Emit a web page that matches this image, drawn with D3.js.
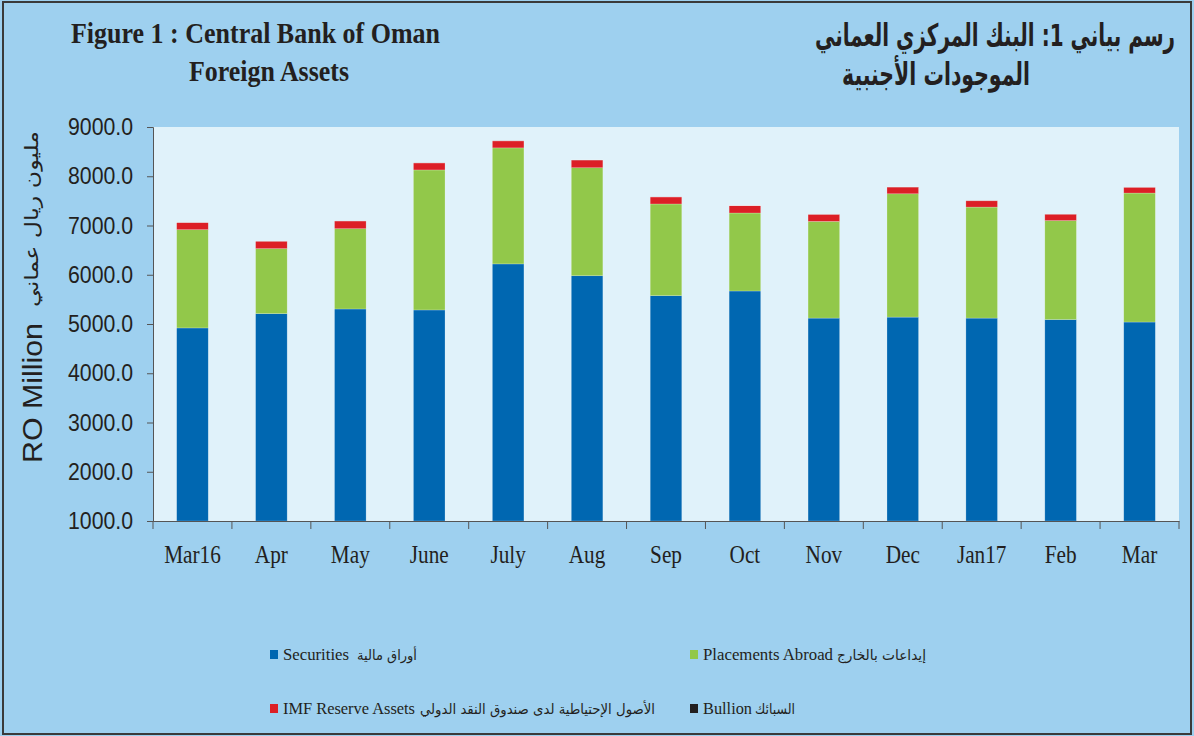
<!DOCTYPE html>
<html>
<head>
<meta charset="utf-8">
<script src="https://cdn.jsdelivr.net/npm/d3@7"></script>
<style>
    body { margin: 0; background: #9ed0ef; }
    svg { display: block; }
</style>
</head>
<body>
<div id="chart"></div>
<script>
// values (RO million)
const months = ["Mar16", "Apr", "May", "June", "July", "Aug", "Sep", "Oct", "Nov", "Dec", "Jan17", "Feb", "Mar"];
const securities = [4920, 5210, 5305, 5285, 6220, 5980, 5575, 5670, 5120, 5140, 5120, 5090, 5040];
const placements = [1995, 1320, 1630, 2843, 2356, 2193, 1862, 1584, 1963, 2504, 2254, 2010, 2619];
const imfReserve = [142, 150, 156, 142, 142, 156, 142, 148, 142, 136, 128, 129, 116];
const bullion = [1, 1, 1, 1, 1, 1, 1, 1, 1, 1, 1, 1, 1];
const yTicks = [1000, 2000, 3000, 4000, 5000, 6000, 7000, 8000, 9000];

const keys = ["securities", "placements", "imf", "bullion"];
const colors = { securities: "#0067b1", placements: "#92c84a", imf: "#dc1f26", bullion: "#231f20" };

const W = 1194, H = 736;
const plot = { left: 153, right: 1179, top: 127, bottom: 521 };

const svg = d3.select("#chart")
    .append("svg")
    .attr("width", W)
    .attr("height", H);

svg.append("rect")
    .attr("x", 3).attr("y", 2)
    .attr("width", W - 6).attr("height", H - 4)
    .attr("fill", "#9ed0ef")
    .attr("stroke", "#3a3a3a")
    .attr("stroke-width", 2);

svg.append("rect")
    .attr("x", plot.left).attr("y", plot.top)
    .attr("width", plot.right - plot.left).attr("height", plot.bottom - plot.top)
    .attr("fill", "#e0f2fa");

const table = months.map((m, i) => ({
    month: m,
    securities: securities[i],
    placements: placements[i],
    imf: imfReserve[i],
    bullion: bullion[i]
}));

const x = d3.scaleBand()
    .domain(months)
    .range([plot.left, plot.right])
    .paddingInner(0.6)
    .paddingOuter(0.3);

const y = d3.scaleLinear()
    .domain([1000, 9000])
    .range([plot.bottom, plot.top]);

const series = d3.stack().keys(keys)(table);

svg.append("g")
    .selectAll("g")
    .data(series)
    .enter().append("g")
    .attr("fill", d => colors[d.key])
    .selectAll("rect")
    .data(d => d)
    .enter().append("rect")
    .attr("x", d => x(d.data.month))
    .attr("y", d => y(d[1]))
    .attr("width", x.bandwidth())
    .attr("height", d => y(Math.max(d[0], 1000)) - y(d[1]))
    .attr("stroke", "rgba(255,255,255,0.35)")
    .attr("stroke-width", 0.6);

// y axis
const yAxis = svg.append("g")
    .attr("transform", `translate(${plot.left},0)`)
    .call(d3.axisLeft(y).tickValues(yTicks).tickSize(6).tickPadding(14).tickFormat(d3.format(".1f")));
yAxis.select(".domain").attr("stroke", "#555");
yAxis.selectAll(".tick line").attr("stroke", "#555");
yAxis.selectAll("text")
    .attr("font-family", "'Liberation Sans', Arial, sans-serif")
    .attr("font-size", 24)
    .attr("fill", "#231f20")
    .attr("textLength", 65)
    .attr("lengthAdjust", "spacingAndGlyphs");

// x axis: labels at band centres, ticks at band boundaries
const xAxis = svg.append("g")
    .attr("transform", `translate(0,${plot.bottom})`)
    .call(d3.axisBottom(x).tickSize(0).tickPadding(0).tickSizeOuter(0));
xAxis.select(".domain").attr("stroke", "#555");
xAxis.selectAll("text")
    .attr("y", 42)
    .attr("dy", 0)
    .attr("transform", "scale(0.85,1)")
    .attr("font-family", "'Liberation Serif', 'Times New Roman', serif")
    .attr("font-size", 25)
    .attr("fill", "#231f20");

const step = x.step();
const bounds = months.map(m => x(m) - step * x.paddingOuter()).concat([x.range()[1]]);
svg.append("g")
    .selectAll("line")
    .data(bounds)
    .enter().append("line")
    .attr("x1", d => d).attr("x2", d => d)
    .attr("y1", plot.bottom).attr("y2", plot.bottom + 8)
    .attr("stroke", "#555");

// axis titles
svg.append("text")
    .attr("transform", "translate(42,393) rotate(-90)")
    .attr("text-anchor", "middle")
    .attr("font-family", "'Liberation Sans', Arial, sans-serif")
    .attr("font-size", 27)
    .attr("fill", "#231f20")
    .attr("textLength", 140)
    .attr("lengthAdjust", "spacingAndGlyphs")
    .text("RO Million");

svg.append("text")
    .attr("transform", "translate(38,219) rotate(-90)")
    .attr("text-anchor", "middle")
    .attr("font-family", "'DejaVu Sans', sans-serif")
    .attr("font-size", 19)
    .attr("fill", "#231f20")
    .attr("textLength", 176)
    .attr("lengthAdjust", "spacingAndGlyphs")
    .text("مليون ريال عماني");

// titles
const serif = "'Liberation Serif', 'Times New Roman', serif";
svg.append("text")
    .attr("x", 71).attr("y", 43)
    .attr("font-family", serif).attr("font-weight", "bold").attr("font-size", 29)
    .attr("fill", "#231f20")
    .attr("textLength", 369).attr("lengthAdjust", "spacingAndGlyphs")
    .text("Figure 1 : Central Bank of Oman");
svg.append("text")
    .attr("x", 189).attr("y", 81)
    .attr("font-family", serif).attr("font-weight", "bold").attr("font-size", 29)
    .attr("fill", "#231f20")
    .attr("textLength", 160).attr("lengthAdjust", "spacingAndGlyphs")
    .text("Foreign Assets");

svg.append("text")
    .attr("x", 1175).attr("y", 46)
    .attr("text-anchor", "end")
    .attr("font-family", "'DejaVu Sans', sans-serif").attr("font-weight", "bold").attr("font-size", 31)
    .attr("fill", "#231f20")
    .attr("textLength", 360).attr("lengthAdjust", "spacingAndGlyphs")
    .text("رسم بياني 1: البنك المركزي العماني");
svg.append("text")
    .attr("x", 1030).attr("y", 85)
    .attr("text-anchor", "end")
    .attr("font-family", "'DejaVu Sans', sans-serif").attr("font-weight", "bold").attr("font-size", 31)
    .attr("fill", "#231f20")
    .attr("textLength", 188).attr("lengthAdjust", "spacingAndGlyphs")
    .text("الموجودات الأجنبية");

// legend
const legendItems = [
    { key: "securities", x: 270, y: 655, en: "Securities", enW: 66, ar: "أوراق مالية", arX: 357, arW: 60 },
    { key: "placements", x: 690, y: 655, en: "Placements Abroad", enW: 130, ar: "إيداعات بالخارج", arX: 837, arW: 89 },
    { key: "imf", x: 270, y: 709, en: "IMF Reserve Assets", enW: 132, ar: "الأصول الإحتياطية لدى صندوق النقد الدولي", arX: 420, arW: 235 },
    { key: "bullion", x: 690, y: 709, en: "Bullion", enW: 49, ar: "السبائك", arX: 755, arW: 40 }
];

const legend = svg.append("g");
const li = legend.selectAll("g")
    .data(legendItems)
    .enter().append("g");

li.append("rect")
    .attr("x", d => d.x)
    .attr("y", d => d.y - 5)
    .attr("width", 8)
    .attr("height", 9)
    .attr("fill", d => colors[d.key]);

li.append("text")
    .attr("x", d => d.x + 13)
    .attr("y", d => d.y + 5)
    .attr("font-family", serif)
    .attr("font-size", 16)
    .attr("fill", "#231f20")
    .attr("textLength", d => d.enW)
    .attr("lengthAdjust", "spacingAndGlyphs")
    .text(d => d.en);

li.append("text")
    .attr("x", d => d.arX + d.arW)
    .attr("y", d => d.y + 5)
    .attr("text-anchor", "end")
    .attr("font-family", "'DejaVu Sans', sans-serif")
    .attr("font-size", 14)
    .attr("fill", "#231f20")
    .attr("textLength", d => d.arW)
    .attr("lengthAdjust", "spacingAndGlyphs")
    .text(d => d.ar);
</script>
</body>
</html>
